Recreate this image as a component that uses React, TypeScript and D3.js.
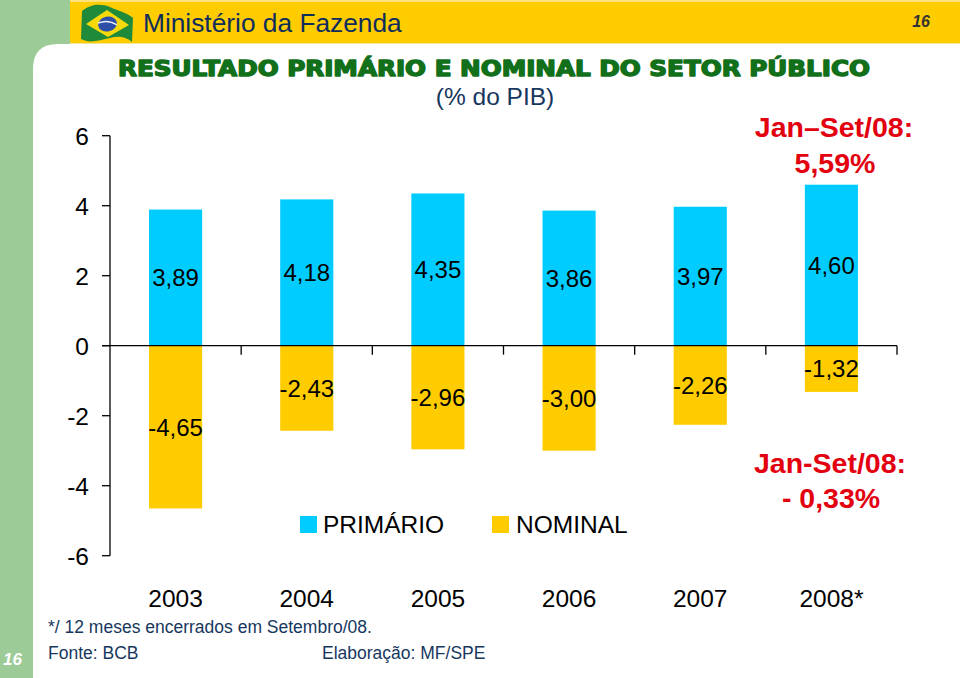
import React from 'react';
import * as d3 from 'd3';

const years = ['2003', '2004', '2005', '2006', '2007', '2008*'];
const primario = [3.89, 4.18, 4.35, 3.86, 3.97, 4.6];
const nominal = [-4.65, -2.43, -2.96, -3.0, -2.26, -1.32];
const yTicks = [-6, -4, -2, 0, 2, 4, 6];
const seriesNames = ['PRIMÁRIO', 'NOMINAL'];

const CYAN = '#00ccff';
const YELLOW = '#ffcc00';
const GREEN_BG = '#9ccb98';
const NAVY = '#17375e';
const RED = '#e3000f';
const FONT = "'Liberation Sans', Arial, sans-serif";

const fmt = (v: number) => v.toFixed(2).replace('.', ',');

export default function App() {
  const x = d3
    .scaleBand<string>()
    .domain(years)
    .range([110, 897])
    .paddingInner(0.595)
    .paddingOuter(0.2975);
  const step = x.step();
  const y = d3.scaleLinear().domain([-6, 6]).range([555.7, 135.7]);
  const y0 = y(0);

  return (
    <svg
      width={960}
      height={678}
      style={{ position: 'absolute', left: 0, top: 0, background: '#fff' }}
      fontFamily={FONT}
    >
      {/* page background */}
      <rect x={0} y={0} width={960} height={678} fill={GREEN_BG} />
      <rect x={70} y={0} width={890} height={44} fill={YELLOW} />
      <rect x={70} y={0} width={890} height={2} fill="#ffe27a" />
      <rect x={70} y={43} width={890} height={1.5} fill="#f2e6a0" />
      <path
        d={`M33,678 L33,${44 + 25} Q33,44 58,44 L960,44 L960,678 Z`}
        fill="#ffffff"
      />

      {/* flag */}
      <g transform="translate(80,3)">
        <path
          d="M2,8 C12,0 22,1 30,4 C38,8 46,9 53,15 L52,39 C45,33 38,33 30,35 C20,37 10,41 1,36 Z"
          fill="#1e8a3a"
        />
        <path d="M6,21 L27,7 L49,22 L28,34 Z" fill="#f5d90a" />
        <ellipse cx={27.5} cy={21} rx={9.5} ry={7.5} fill="#2d4fa8" transform="rotate(-12 27.5 21)" />
        <path d="M18,20 Q28,16 37,22" stroke="#e8eef5" strokeWidth={1.5} fill="none" />
      </g>

      <text x={143} y={31.5} fontSize={26.3} fill="#0f2d5c">
        Ministério da Fazenda
      </text>
      <text
        x={930}
        y={27}
        fontSize={16}
        fontWeight="bold"
        fontStyle="italic"
        fill="#333"
        textAnchor="end"
      >
        16
      </text>
      <text x={3} y={665} fontSize={17} fontWeight="bold" fontStyle="italic" fill="#fff">
        16
      </text>

      {/* titles */}
      <text
        x={118}
        y={75.5}
        fontSize={20.5}
        fontWeight="900"
        fontFamily="'DejaVu Sans', sans-serif"
        fill="#12701a"
        stroke="#12701a"
        strokeWidth={1.4}
        strokeLinejoin="round"
        textLength={752}
        lengthAdjust="spacingAndGlyphs"
      >
        RESULTADO PRIMÁRIO E NOMINAL DO SETOR PÚBLICO
      </text>
      <text x={495} y={105} fontSize={24.5} fill={NAVY} textAnchor="middle">
        (% do PIB)
      </text>

      {/* bars */}
      {years.map((yr, i) => {
        const bx = x(yr) as number;
        const bw = x.bandwidth();
        const p = primario[i];
        const n = nominal[i];
        return (
          <g key={yr}>
            <rect x={bx} y={y(p)} width={bw} height={y0 - y(p)} fill={CYAN} />
            <rect x={bx} y={y0} width={bw} height={y(n) - y0} fill={YELLOW} />
            <text
              x={bx + bw / 2}
              y={(y(p) + y0) / 2}
              dy="0.36em"
              fontSize={24}
              textAnchor="middle"
              fill="#000"
            >
              {fmt(p)}
            </text>
            <text
              x={bx + bw / 2}
              y={(y(n) + y0) / 2}
              dy="0.36em"
              fontSize={24}
              textAnchor="middle"
              fill="#000"
            >
              {fmt(n)}
            </text>
            <text x={bx + bw / 2} y={607} fontSize={24.5} textAnchor="middle" fill="#000">
              {yr}
            </text>
          </g>
        );
      })}

      {/* y axis */}
      <line x1={110} x2={110} y1={y(6)} y2={y(-6)} stroke="#000" strokeWidth={1.3} />
      {yTicks.map((t) => (
        <g key={t}>
          <line x1={102} x2={110} y1={y(t)} y2={y(t)} stroke="#000" strokeWidth={1.3} />
          <text x={89} y={y(t)} dy="0.36em" fontSize={24.5} textAnchor="end" fill="#000">
            {t}
          </text>
        </g>
      ))}
      {/* x axis (zero line) */}
      <line x1={102} x2={110 + step * years.length} y1={y0} y2={y0} stroke="#000" strokeWidth={1.3} />
      {years.map((yr, i) => (
        <line
          key={'t' + yr}
          x1={110 + step * (i + 1)}
          x2={110 + step * (i + 1)}
          y1={y0}
          y2={y0 + 9}
          stroke="#000"
          strokeWidth={1.3}
        />
      ))}

      {/* legend */}
      <rect x={300} y={516} width={17} height={17} fill={CYAN} />
      <text x={323} y={533} fontSize={24.5} fill="#000">
        {seriesNames[0]}
      </text>
      <rect x={492} y={516} width={17} height={17} fill={YELLOW} />
      <text x={516} y={533} fontSize={24.5} fill="#000">
        {seriesNames[1]}
      </text>

      {/* annotations */}
      <g fill={RED} fontWeight="bold" fontSize={28.5} textAnchor="middle">
        <text x={834} y={136.5}>Jan–Set/08:</text>
        <text x={835} y={173}>5,59%</text>
        <text x={830} y={473}>Jan-Set/08:</text>
        <text x={831} y={508}>- 0,33%</text>
      </g>

      {/* footnotes */}
      <g fill={NAVY} fontSize={17.5}>
        <text x={48} y={633}>*/ 12 meses encerrados em Setembro/08.</text>
        <text x={48} y={659}>Fonte: BCB</text>
        <text x={322} y={659}>Elaboração: MF/SPE</text>
      </g>
    </svg>
  );
}
